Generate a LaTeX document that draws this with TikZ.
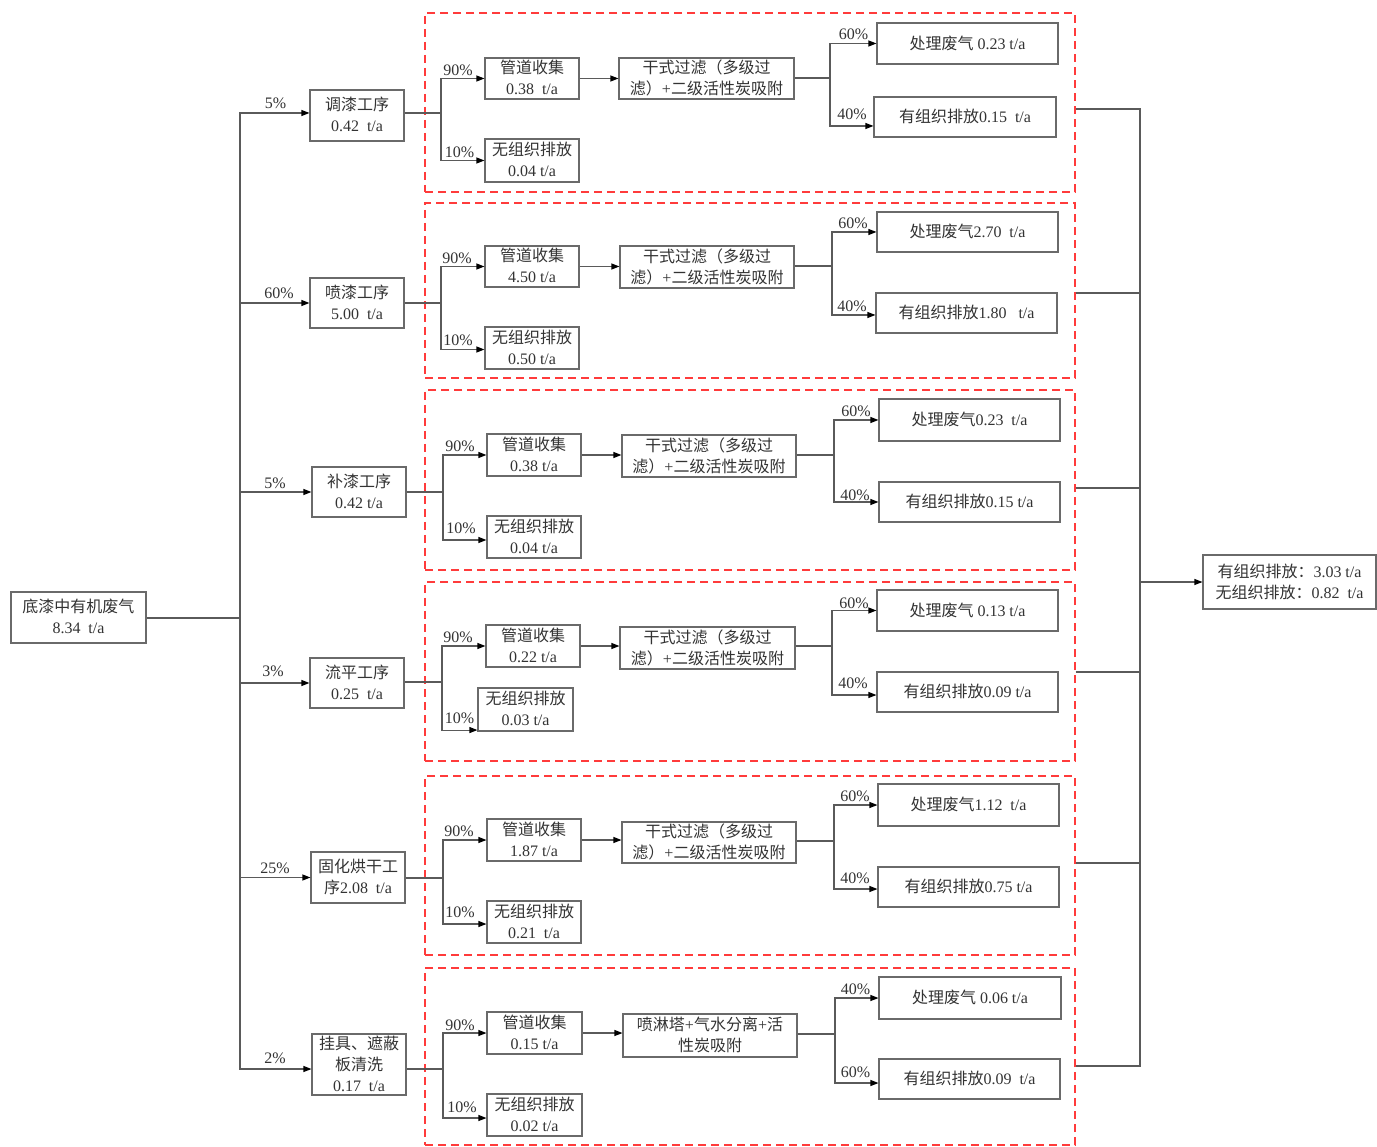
\documentclass[tikz,border=0pt]{standalone}
\usepackage{fontspec}
\setmainfont{Liberation Serif}
\newfontfamily\cjk{Noto Sans CJK SC}
\usetikzlibrary{arrows.meta,fit}
\newcommand\zh[1]{{\cjk\smash{#1}}}
\definecolor{txtc}{HTML}{333333}
\definecolor{boxc}{HTML}{6A6A6A}
\definecolor{linec}{HTML}{5A5A5A}
\definecolor{redc}{HTML}{FF3B3B}
\tikzset{
  boxst/.style={draw=boxc, line width=1.1pt, inner sep=0pt},
  txtst/.style={inner sep=0pt, text=txtc, yshift=-1.5pt},
  redbox/.style={draw=redc, line width=1.4pt, dash pattern=on 8pt off 5pt, inner sep=0pt},
  ln/.style={draw=linec, line width=1.1pt},
  arr/.style={ln, -{Triangle[length=8pt,width=6pt,color=black]}},
  pct/.style={inner sep=0pt, text=txtc}
}
\newcommand\bx[6]{\node[boxst, fit={(#2,#3) (#4,#5)}] (#1) {};
  \node[txtst] (#1t) at (#1.center) {\begin{tabular}{@{}c@{}}#6\end{tabular}};}
\newcommand\rb[5]{\node[redbox, fit={(#2,#3) (#4,#5)}] (#1) {};}
\begin{document}
\begin{tikzpicture}[x=1pt,y=-1pt,font=\fontsize{16}{21}\selectfont]
\useasboundingbox[fill=white] (0,0) rectangle (1377,1147);

% red dashed groups
\rb{g1}{425}{13}{1075}{192}
\rb{g2}{425}{203}{1075}{378}
\rb{g3}{425}{390}{1075}{570}
\rb{g4}{425}{582}{1075}{761}
\rb{g5}{425}{776}{1075}{955}
\rb{g6}{425}{968}{1075}{1145}

% source and final
\bx{src}{11}{592}{146}{643}{\zh{底漆中有机废气}\\8.34~~t/a}
\bx{fin}{1203}{555}{1376}{609}{\zh{有组织排放：}3.03 t/a\\\zh{无组织排放：}0.82~~t/a}

% process boxes
\bx{p1}{310}{90}{404}{141}{\zh{调漆工序}\\0.42~~t/a}
\bx{p2}{310}{278}{404}{328}{\zh{喷漆工序}\\5.00~~t/a}
\bx{p3}{312}{467}{406}{517}{\zh{补漆工序}\\0.42 t/a}
\bx{p4}{310}{658}{404}{708}{\zh{流平工序}\\0.25~~t/a}
\bx{p5}{311}{852}{405}{903}{\zh{固化烘干工}\\\zh{序}2.08~~t/a}
\bx{p6}{312}{1034}{406}{1095}{\zh{挂具、遮蔽}\\\zh{板清洗}\\0.17~~t/a}

% group 1
\bx{c1}{485}{58}{579}{99}{\zh{管道收集}\\0.38~~t/a}
\bx{u1}{485}{139}{579}{182}{\zh{无组织排放}\\0.04 t/a}
\bx{f1}{619}{58}{794}{99}{\zh{干式过滤（多级过}\\\zh{滤）}+\zh{二级活性炭吸附}}
\bx{t1}{877}{23}{1058}{64}{\zh{处理废气} 0.23 t/a}
\bx{e1}{874}{97}{1056}{137}{\zh{有组织排放}0.15~~t/a}
% group 2
\bx{c2}{485}{246}{579}{287}{\zh{管道收集}\\4.50 t/a}
\bx{u2}{485}{327}{579}{369}{\zh{无组织排放}\\0.50 t/a}
\bx{f2}{620}{246}{794}{288}{\zh{干式过滤（多级过}\\\zh{滤）}+\zh{二级活性炭吸附}}
\bx{t2}{877}{212}{1058}{252}{\zh{处理废气}2.70~~t/a}
\bx{e2}{876}{293}{1057}{333}{\zh{有组织排放}1.80~~~t/a}
% group 3
\bx{c3}{487}{434}{581}{476}{\zh{管道收集}\\0.38 t/a}
\bx{u3}{487}{516}{581}{558}{\zh{无组织排放}\\0.04 t/a}
\bx{f3}{622}{435}{796}{477}{\zh{干式过滤（多级过}\\\zh{滤）}+\zh{二级活性炭吸附}}
\bx{t3}{879}{399}{1060}{441}{\zh{处理废气}0.23~~t/a}
\bx{e3}{879}{482}{1060}{522}{\zh{有组织排放}0.15 t/a}
% group 4
\bx{c4}{486}{625}{580}{667}{\zh{管道收集}\\0.22 t/a}
\bx{u4}{478}{688}{573}{731}{\zh{无组织排放}\\0.03 t/a}
\bx{f4}{620}{627}{795}{669}{\zh{干式过滤（多级过}\\\zh{滤）}+\zh{二级活性炭吸附}}
\bx{t4}{877}{590}{1058}{631}{\zh{处理废气} 0.13 t/a}
\bx{e4}{877}{672}{1058}{712}{\zh{有组织排放}0.09 t/a}
% group 5
\bx{c5}{487}{819}{581}{861}{\zh{管道收集}\\1.87 t/a}
\bx{u5}{487}{901}{581}{943}{\zh{无组织排放}\\0.21~~t/a}
\bx{f5}{622}{822}{796}{863}{\zh{干式过滤（多级过}\\\zh{滤）}+\zh{二级活性炭吸附}}
\bx{t5}{878}{784}{1059}{826}{\zh{处理废气}1.12~~t/a}
\bx{e5}{878}{867}{1059}{907}{\zh{有组织排放}0.75 t/a}
% group 6
\bx{c6}{487}{1012}{582}{1054}{\zh{管道收集}\\0.15 t/a}
\bx{u6}{487}{1094}{582}{1136}{\zh{无组织排放}\\0.02 t/a}
\bx{f6}{623}{1014}{797}{1057}{\zh{喷淋塔}+\zh{气水分离}+\zh{活}\\\zh{性炭吸附}}
\bx{t6}{879}{977}{1061}{1019}{\zh{处理废气} 0.06 t/a}
\bx{e6}{879}{1059}{1060}{1099}{\zh{有组织排放}0.09~~t/a}

% junction coordinates
\coordinate (L) at (240,618);
\coordinate (R) at (1140,582);
\coordinate (j1) at (441,113);  \coordinate (k1) at (830,78);
\coordinate (j2) at (441,303);  \coordinate (k2) at (832,266);
\coordinate (j3) at (443,492);  \coordinate (k3) at (834,455);
\coordinate (j4) at (442,682);  \coordinate (k4) at (832,646);
\coordinate (j5) at (443,878);  \coordinate (k5) at (834,841);
\coordinate (j6) at (443,1069); \coordinate (k6) at (835,1034);

% left trunk
\draw[ln] (src.east |- L) -- (L);
\draw[arr] (L) |- ([yshift=2.5pt]p1.west);
\draw[arr] (L) |- (p2.west);
\draw[arr] (L) |- (p3.west);
\draw[arr] (L) |- (p4.west);
\draw[arr] (L) |- (p5.west);
\draw[arr] (L) |- ([yshift=-4.5pt]p6.west);

% process to junctions
\foreach \i in {1,...,6}{
  \draw[ln] (p\i.east |- j\i) -- (j\i);
  \draw[arr] (c\i.east) -- (f\i.west |- c\i.east);
  \draw[ln] (f\i.east |- k\i) -- (k\i);
}
\draw[arr] (j1) |- (c1.west);  \draw[arr] (j1) |- (u1.west);
\draw[arr] (j2) |- (c2.west);  \draw[arr] (j2) |- ([yshift=-1.5pt]u2.west);
\draw[arr] (j3) |- (c3.west);  \draw[arr] (j3) |- ([yshift=-3pt]u3.west);
\draw[arr] (j4) |- (c4.west);  \draw[arr] (j4) |- ([yshift=1.5pt]u4.south west);
\draw[arr] (j5) |- (c5.west);  \draw[arr] (j5) |- ([yshift=-2pt]u5.west);
\draw[arr] (j6) |- (c6.west);  \draw[arr] (j6) |- ([yshift=-3pt]u6.west);

\draw[arr] (k1) |- (t1.west);  \draw[arr] (k1) |- ([yshift=-9pt]e1.west);
\draw[arr] (k2) |- (t2.west);  \draw[arr] (k2) |- ([yshift=-2pt]e2.west);
\draw[arr] (k3) |- (t3.west);  \draw[arr] (k3) |- (e3.west);
\draw[arr] (k4) |- (t4.west);  \draw[arr] (k4) |- ([yshift=-3pt]e4.west);
\draw[arr] (k5) |- (t5.west);  \draw[arr] (k5) |- ([yshift=-2pt]e5.west);
\draw[arr] (k6) |- (t6.west);  \draw[arr] (k6) |- ([yshift=-4pt]e6.west);

% right trunk
\draw[ln] ([yshift=-6.5pt]g1.east) -| (R);
\draw[ln] ([yshift=-2.5pt]g2.east) -| (R);
\draw[ln] ([yshift=-8pt]g3.east) -| (R);
\draw[ln] ([yshift=-0.5pt]g4.east) -| (R);
\draw[ln] ([yshift=2.5pt]g5.east) -| (R);
\draw[ln] ([yshift=-9.5pt]g6.east) -| (R);
\draw[arr] (R) -- (fin.west);

% percentage labels
\node[pct] (a1) at (275.5,103) {5\%};
\node[pct] (a2) at (279,293) {60\%};
\node[pct] (a3) at (275,483) {5\%};
\node[pct] (a4) at (273,671) {3\%};
\node[pct] (a5) at (275,868) {25\%};
\node[pct] (a6) at (275,1058) {2\%};

\node[pct] (b1) at (458,70) {90\%};   \node[pct] (d1) at (459.5,152) {10\%};
\node[pct] (b2) at (457,258) {90\%};  \node[pct] (d2) at (458,340) {10\%};
\node[pct] (b3) at (460,446) {90\%};  \node[pct] (d3) at (461,528) {10\%};
\node[pct] (b4) at (458,637) {90\%};  \node[pct] (d4) at (459.5,718) {10\%};
\node[pct] (b5) at (459,831) {90\%};  \node[pct] (d5) at (460,912) {10\%};
\node[pct] (b6) at (460,1025) {90\%}; \node[pct] (d6) at (462,1107) {10\%};

\node[pct] (m1) at (853.5,34) {60\%};  \node[pct] (n1) at (852,114) {40\%};
\node[pct] (m2) at (853,223) {60\%};   \node[pct] (n2) at (852,306) {40\%};
\node[pct] (m3) at (856,411) {60\%};   \node[pct] (n3) at (855,495) {40\%};
\node[pct] (m4) at (854,603) {60\%};   \node[pct] (n4) at (853,683) {40\%};
\node[pct] (m5) at (855,796) {60\%};   \node[pct] (n5) at (855,878) {40\%};
\node[pct] (m6) at (855.5,989.5) {40\%}; \node[pct] (n6) at (855.5,1072) {60\%};
\end{tikzpicture}
\end{document}
